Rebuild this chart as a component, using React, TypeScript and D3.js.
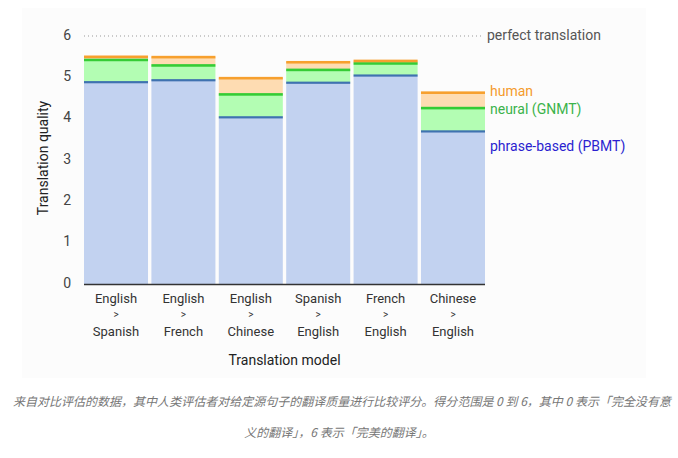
import * as d3 from "d3";

// Source > target pairs
const SOURCES = ["English", "English", "English", "Spanish", "French", "Chinese"];
const TARGETS = ["Spanish", "French", "Chinese", "English", "English", "English"];

// Mean human ratings (0-6)
const PBMT = [4.885, 4.932, 4.035, 4.872, 5.046, 3.694];
const GNMT = [5.428, 5.295, 4.594, 5.187, 5.343, 4.263];
const HUMAN = [5.504, 5.496, 4.987, 5.372, 5.404, 4.636];

const Y_TICKS = [0, 1, 2, 3, 4, 5, 6];

const CAPTION_1 =
  "来自对比评估的数据，其中人类评估者对给定源句子的翻译质量进行比较评分。得分范围是 0 到 6，其中 0 表示「完全没有意";
const CAPTION_2 = "义的翻译」，6 表示「完美的翻译」。";

const W = 678;
const H = 458;

const FONT = "Roboto, 'Noto Sans', sans-serif";

export default function App() {
  const margin = { top: 36, left: 84, right: 193, bottom: 174 };
  const innerW = W - margin.left - margin.right;
  const innerH = H - margin.top - margin.bottom;

  const labels = SOURCES.map((s, i) => `${s}>${TARGETS[i]}`);

  const x = d3.scaleBand<string>().domain(labels).range([0, innerW]).paddingInner(0.05);
  const y = d3.scaleLinear().domain([0, 6]).range([innerH, 0]);

  const last = labels.length - 1;

  return (
    <svg
      width={W}
      height={H}
      style={{ position: "absolute", left: 0, top: 0, background: "#fff" }}
      fontFamily={FONT}
    >
      {/* faint backdrop of the pasted chart image */}
      <rect x={22} y={8} width={624} height={370} fill="#fcfcfc" />

      <g transform={`translate(${margin.left},${margin.top})`}>
        {/* perfect translation line */}
        <line
          x1={0}
          x2={innerW - 3}
          y1={y(6)}
          y2={y(6)}
          stroke="#999"
          strokeWidth={1}
          strokeDasharray="1,3"
        />
        <text x={innerW + 2} y={y(6)} dominantBaseline="middle" fontSize={14} fill="#555">
          perfect translation
        </text>

        {/* stacked bars */}
        {labels.map((l, i) => {
          const bx = x(l) ?? 0;
          const bw = x.bandwidth();
          return (
            <g key={l}>
              <rect x={bx} y={y(PBMT[i])} width={bw} height={innerH - y(PBMT[i])} fill="#c2d2f0" />
              <rect x={bx} y={y(GNMT[i])} width={bw} height={y(PBMT[i]) - y(GNMT[i])} fill="#b3fdb3" />
              <rect x={bx} y={y(HUMAN[i])} width={bw} height={y(GNMT[i]) - y(HUMAN[i])} fill="#fedcb2" />
              <rect x={bx} y={y(PBMT[i]) - 1} width={bw} height={2.2} fill="#3f72b0" />
              <rect x={bx} y={y(GNMT[i]) - 1} width={bw} height={2.6} fill="#35cc35" />
              <rect x={bx} y={y(HUMAN[i]) - 1} width={bw} height={2.6} fill="#f7a02e" />
            </g>
          );
        })}

        {/* x axis */}
        <line x1={0} x2={innerW} y1={innerH + 0.5} y2={innerH + 0.5} stroke="#333" strokeWidth={1.5} />
        {labels.map((l, i) => {
          const cx = (x(l) ?? 0) + x.bandwidth() / 2;
          return (
            <g key={l} transform={`translate(${cx},${innerH})`} fontSize={13} fill="#333" textAnchor="middle">
              <text y={19}>{SOURCES[i]}</text>
              <text y={34} fontSize={10}>&gt;</text>
              <text y={52}>{TARGETS[i]}</text>
            </g>
          );
        })}
        <text x={innerW / 2} y={innerH + 81} textAnchor="middle" fontSize={14} fill="#222">
          Translation model
        </text>

        {/* y axis */}
        {Y_TICKS.map((t) => (
          <text key={t} x={-13} y={y(t)} textAnchor="end" dominantBaseline="middle" fontSize={14} fill="#444">
            {t}
          </text>
        ))}
        <text
          transform={`translate(-40,${innerH / 2 - 2}) rotate(-90)`}
          textAnchor="middle"
          dominantBaseline="middle"
          fontSize={14}
          fill="#222"
        >
          Translation quality
        </text>

        {/* series labels */}
        <text x={innerW + 5} y={y(HUMAN[last])} dominantBaseline="middle" fontSize={14} fill="#f49b2c">
          human
        </text>
        <text x={innerW + 5} y={y(GNMT[last]) + 3} dominantBaseline="middle" fontSize={14} fill="#3bb34a">
          neural (GNMT)
        </text>
        <text x={innerW + 5} y={y(PBMT[last]) + 16} dominantBaseline="middle" fontSize={14} fill="#2b1fd0">
          phrase-based (PBMT)
        </text>
      </g>

      {/* caption */}
      <g fontFamily="'Noto Sans CJK SC', sans-serif" fontSize={12} fill="#777" fontStyle="italic" textAnchor="middle">
        <text x={342} y={406} textLength={658} lengthAdjust="spacingAndGlyphs">
          {CAPTION_1}
        </text>
        <text x={339} y={437}>{CAPTION_2}</text>
      </g>
    </svg>
  );
}
